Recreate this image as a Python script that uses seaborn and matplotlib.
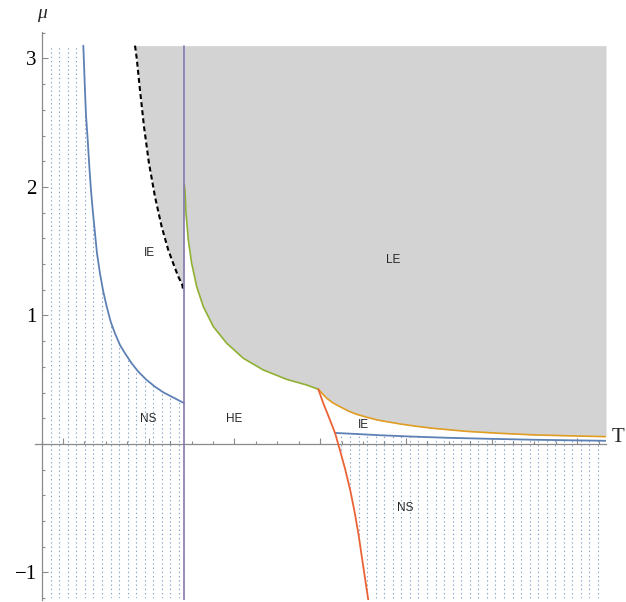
import numpy as np
import matplotlib
matplotlib.use("Agg")
import matplotlib.pyplot as plt
import matplotlib.patches as mpatches
from matplotlib.ticker import MultipleLocator, FixedLocator, NullFormatter
import seaborn as sns

# plot range in (T, mu)
T_MIN, T_MAX = 0.75, 7.336
MU_MIN, MU_MAX = -1.2, 3.1
T_WALL = 2.412          # vertical (purple) boundary

# phase boundaries
ns_left_T = [1.237, 1.256, 1.268, 1.288, 1.307, 1.326, 1.350, 1.373, 1.396, 1.431, 1.470,
             1.510, 1.556, 1.606, 1.665, 1.723, 1.801, 1.878, 1.976, 2.073, 2.170, 2.268,
             2.404, 2.412]
ns_left_mu = [3.100, 2.755, 2.560, 2.366, 2.158, 1.977, 1.795, 1.640, 1.486, 1.328, 1.185,
              1.069, 0.952, 0.861, 0.770, 0.706, 0.628, 0.563, 0.498, 0.446, 0.402, 0.368,
              0.321, 0.318]

ie_dash_T = [1.840, 1.860, 1.898, 1.945, 2.003, 2.073, 2.151, 2.228, 2.307, 2.345, 2.392, 2.404]
ie_dash_mu = [3.100, 3.001, 2.755, 2.469, 2.184, 1.925, 1.691, 1.510, 1.367, 1.303, 1.238, 1.190]

green_T = [2.414, 2.423, 2.435, 2.462, 2.501, 2.560, 2.637, 2.754, 2.910, 3.104, 3.337,
           3.610, 3.843, 3.979]
green_mu = [2.020, 1.977, 1.795, 1.588, 1.406, 1.224, 1.069, 0.913, 0.784, 0.667, 0.576,
            0.503, 0.459, 0.426]

orange_T = [3.979, 4.077, 4.151, 4.232, 4.330, 4.426, 4.547, 4.660, 4.800, 4.932, 5.120,
            5.317, 5.714, 6.099, 6.484, 6.881, 7.336]
orange_mu = [0.426, 0.356, 0.319, 0.290, 0.256, 0.231, 0.208, 0.188, 0.171, 0.156, 0.138,
             0.122, 0.098, 0.083, 0.071, 0.064, 0.057]

red_T = [3.979, 4.037, 4.115, 4.174, 4.224, 4.290, 4.349, 4.400, 4.446, 4.504, 4.562]
red_mu = [0.426, 0.317, 0.187, 0.086, -0.030, -0.190, -0.352, -0.520, -0.695, -0.955, -1.214]

ie_low_T = [4.174, 4.450, 4.700, 5.100, 5.500, 6.000, 6.500, 7.000, 7.336]
ie_low_mu = [0.086, 0.077, 0.068, 0.057, 0.048, 0.040, 0.033, 0.028, 0.025]

region_names = ["IE", "LE", "NS", "HE", "IE", "NS"]
region_T = [2.009, 4.850, 1.995, 2.999, 4.504, 4.994]
region_mu = [1.486, 1.432, 0.195, 0.195, 0.148, -0.496]

BLUE, ORANGE, GREEN, RED, PURPLE = "#5E81B5", "#E19C24", "#8FB032", "#EB6235", "#8778B3"
GRAY = "#d3d3d3"
AXIS_C = "#8a8a8a"

sns.set_theme(style="white")
plt.rcParams["font.family"] = ["Liberation Sans", "DejaVu Sans"]

fig = plt.figure(figsize=(6.26, 6.02), dpi=100)
ax = fig.add_axes([35 / 626, 2 / 602, 571 / 626, 568 / 602])
ax.set_xlim(0.673, T_MAX)
ax.set_ylim(-1.214, 3.206)

# shaded LE / IE region
ax.fill_betweenx(ie_dash_mu, ie_dash_T, T_WALL, color=GRAY, lw=0, zorder=0)
ax.fill_between([T_WALL] + green_T + orange_T[1:], [green_mu[0]] + green_mu + orange_mu[1:],
                MU_MAX, color=GRAY, lw=0, zorder=0)

# dotted hatching for the NS regions
left_poly = np.column_stack([
    [T_MIN, T_MIN] + ns_left_T + [T_WALL],
    [MU_MIN, MU_MAX] + ns_left_mu + [MU_MIN],
])
red_arr = np.array([red_T, red_mu]).T
red_lower = red_arr[red_arr[:, 1] <= ie_low_mu[0]]
right_poly = np.vstack([
    [[ie_low_T[0], ie_low_mu[0]]],
    red_lower,
    [[T_MAX, MU_MIN]],
    np.column_stack([ie_low_T[::-1], ie_low_mu[::-1]]),
])
hatch_x = np.arange(0.856, T_MAX, 0.0998)
for verts in (left_poly, right_poly):
    clip = mpatches.Polygon(verts, closed=True, fill=False, lw=0,
                            transform=ax.transData)
    ax.add_patch(clip)
    vl = ax.vlines(hatch_x, MU_MIN, MU_MAX, colors=BLUE, alpha=0.75,
                   linewidth=0.8, linestyles=[(0, (1.2, 2.6))], zorder=1)
    vl.set_clip_path(clip)

# boundaries
line_kw = dict(sort=False, estimator=None, ax=ax, legend=False)
sns.lineplot(x=ns_left_T, y=ns_left_mu, color=BLUE, linewidth=1.3, **line_kw)
sns.lineplot(x=ie_dash_T, y=ie_dash_mu, color="black", linewidth=1.5, **line_kw)
ax.lines[-1].set_linestyle((0, (2.4, 1.5)))
sns.lineplot(x=green_T, y=green_mu, color=GREEN, linewidth=1.2, **line_kw)
sns.lineplot(x=orange_T, y=orange_mu, color=ORANGE, linewidth=1.2, **line_kw)
sns.lineplot(x=ie_low_T, y=ie_low_mu, color=BLUE, linewidth=1.3, **line_kw)
sns.lineplot(x=red_T, y=red_mu, color=RED, linewidth=1.3, **line_kw)
sns.lineplot(x=[T_WALL, T_WALL], y=[-1.214, MU_MAX], color=PURPLE, linewidth=1.2, **line_kw)
for ln in ax.lines:
    ln.set_zorder(3)
    ln.set_solid_joinstyle("round")

for name, t, m in zip(region_names, region_T, region_mu):
    ax.text(t, m, name, ha="center", va="center", fontsize=8.5, zorder=4)

# Mathematica-style axes crossing inside the frame
for side in ("top", "right"):
    ax.spines[side].set_visible(False)
ax.spines["left"].set_position(("data", T_MIN))
ax.spines["bottom"].set_position(("data", 0))
for side in ("left", "bottom"):
    ax.spines[side].set_color(AXIS_C)
    ax.spines[side].set_linewidth(0.9)
    ax.spines[side].set_zorder(2.5)
ax.patch.set_alpha(0)

ax.xaxis.set_major_locator(MultipleLocator(1))
ax.xaxis.set_minor_locator(MultipleLocator(0.25))
ax.xaxis.set_major_formatter(NullFormatter())
ax.yaxis.set_major_locator(FixedLocator([-1, 1, 2, 3]))
ax.yaxis.set_minor_locator(MultipleLocator(0.2))
ax.tick_params(axis="both", which="both", direction="in", color=AXIS_C, width=0.8,
               bottom=True, left=True)
ax.tick_params(axis="both", which="major", length=4.5)
ax.tick_params(axis="both", which="minor", length=2.5)
ax.tick_params(axis="y", labelsize=15, pad=3.5, labelcolor="black")
for lab in ax.get_yticklabels():
    lab.set_fontfamily("Liberation Serif")

fig.text(41.5 / 626, 1 - 18 / 602, "μ", ha="center", va="baseline", fontsize=14,
         style="italic", family="Liberation Serif")
fig.text(612 / 626, 1 - 442 / 602, "T", ha="left", va="baseline", fontsize=15,
         family="Liberation Serif")

fig.savefig("out.png", dpi=100)
